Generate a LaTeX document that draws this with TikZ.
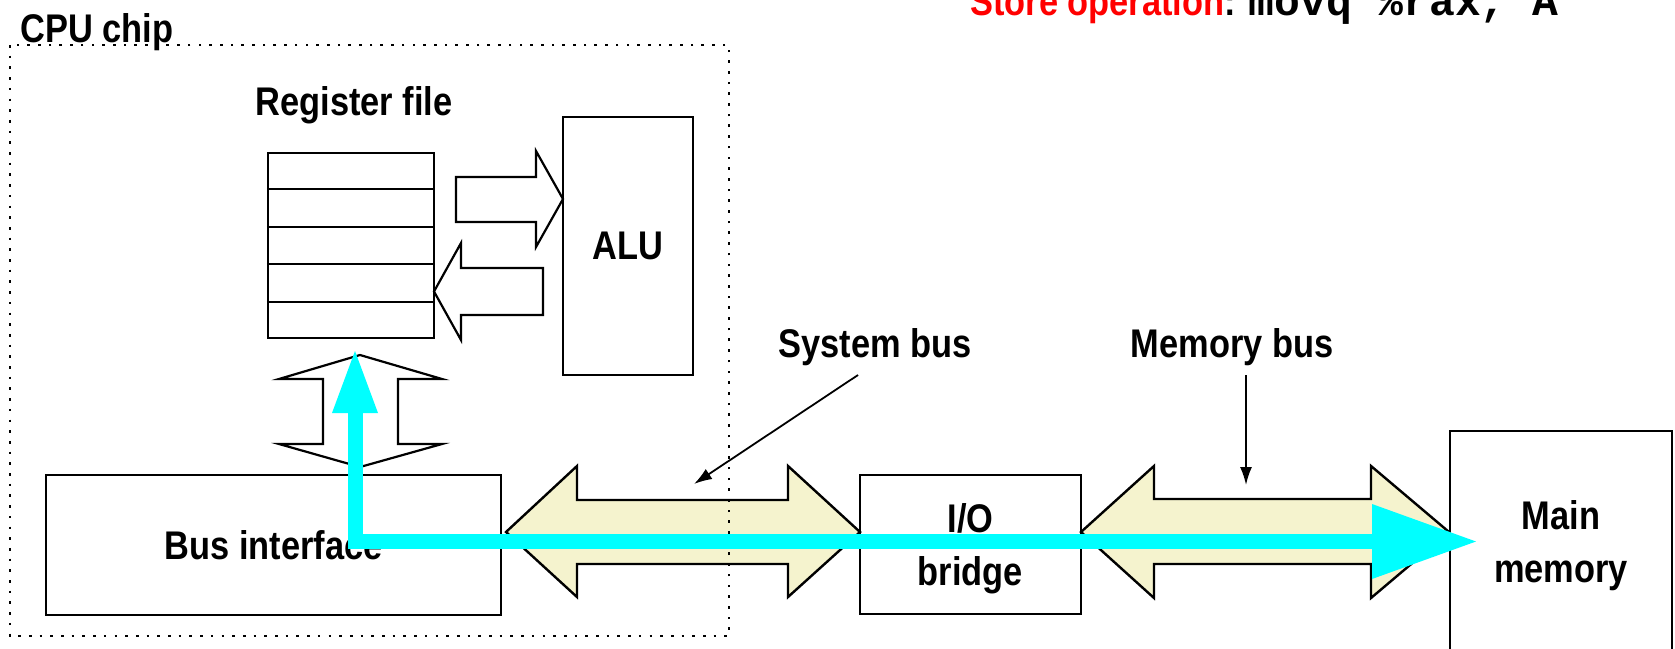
\documentclass[tikz,border=0pt]{standalone}
\usepackage{fontspec}
\setmainfont{Liberation Sans}[FakeStretch=0.86]
\newfontfamily\codefont{Liberation Mono}
\usetikzlibrary{arrows.meta,calc}
\definecolor{busfill}{RGB}{245,243,206}
\definecolor{flow}{RGB}{0,255,255}

\begin{document}
\begin{tikzpicture}[x=1pt,y=-1pt,
  every node/.style={font=\fontsize{40}{52.5}\selectfont\bfseries, inner sep=0pt},
  box/.style={draw, line width=2.2pt, rectangle, inner sep=0pt},
  rowline/.style={line width=2.2pt},
  hollow/.style={draw, line width=2.2pt, fill=white, line join=miter},
  busarrow/.style={draw, line width=2.4pt, fill=busfill, line join=miter},
  pointer/.style={line width=1.8pt, -{Latex[length=18pt,width=12pt]}},
  chip/.style={line width=2.6pt, dash pattern=on 2.6pt off 8.1pt},
  flowline/.style={draw=flow, line width=15pt, line join=miter},
  twolines/.style={anchor=base},
]
\path[use as bounding box, fill=white] (0,0) rectangle (1675,648);
\clip (0,0) rectangle (1675,648);

% register file with its five rows
\node[box, minimum width=166, minimum height=185] (regs) at (351,245.5) {};
\foreach \k in {1,...,4}
  \draw[rowline] ($(regs.north west)!\k/5!(regs.south west)$) -- ($(regs.north east)!\k/5!(regs.south east)$);

% functional blocks
\node[box, minimum width=130, minimum height=258] (alu) at (628,246) {ALU};
\node[box, minimum width=455, minimum height=140] (bif) at (273.5,545) {Bus interface};
\node[box, minimum width=221, minimum height=139] (iob) at (970.5,544.5) {};
\node[twolines] (iobtxt) at (970.5,585) {\begin{tabular}[b]{@{}c@{}}I/O\\bridge\end{tabular}};
\node[box, minimum width=222, minimum height=300] (mem) at (1561,581) {};
\node[twolines] (memtxt) at (1561,582) {\begin{tabular}[b]{@{}c@{}}Main\\memory\end{tabular}};

% data paths between register file, ALU and bus interface
\draw[hollow] (456,177) -- (536,177) -- (536,151) -- (563,199) -- (536,247) -- (536,222) -- (456,222) -- cycle;
\draw[hollow] (434,291.5) -- (461,243) -- (461,268) -- (543,268) -- (543,315) -- (461,315) -- (461,340) -- cycle;
\draw[hollow] (360,355) -- (442,379) -- (398,379) -- (398,444) -- (442,444) -- (360,467)
  -- (279,444) -- (323,444) -- (323,379) -- (279,379) -- cycle;

% system bus and memory bus
\draw[busarrow] (506,532) -- (577,466) -- (577,500) -- (788,500) -- (788,466) -- (860,532)
  -- (788,597) -- (788,564) -- (577,564) -- (577,597) -- cycle;
\draw[busarrow] (1081,532) -- (1154,466) -- (1154,499) -- (1371,499) -- (1371,466) -- (1449,532)
  -- (1371,598) -- (1371,564) -- (1154,564) -- (1154,598) -- cycle;

% CPU chip boundary
\draw[chip] (10,45) rectangle (729,636);

% labels
\node[anchor=base west] (cpulbl) at (20.5,42) {CPU chip};
\node[anchor=base] (reglbl) at (354,115) {Register file};
\node[anchor=base] (sbl) at (875,357) {System bus};
\node[anchor=base] (mbl) at (1232,357) {Memory bus};
\node[anchor=base west] (title) at (970,15)
  {\textcolor{red}{Store operation}: {\codefont\fontsize{43}{50}\selectfont movq \%rax, A}};

% label pointers
\coordinate (sbfrom) at (858,375);
\coordinate (sbto) at (694,484);
\coordinate (mbfrom) at (1246,375);
\coordinate (mbto) at (1246,485);
\draw[pointer] (sbfrom) -- (sbto);
\draw[pointer] (mbfrom) -- (mbto);

% store data flow: register file -> bus interface -> main memory
\coordinate (upbase) at (355,405);
\coordinate (uptip) at (355,351);
\coordinate (rtbase) at (1380,541.5);
\coordinate (rttip) at (1476,541.5);
\draw[flowline] (upbase) |- (rtbase);
\fill[flow] (332,413) -- (uptip) -- (378,413) -- cycle;
\fill[flow] (1372,504) -- (rttip) -- (1372,579) -- cycle;
\end{tikzpicture}
\end{document}
